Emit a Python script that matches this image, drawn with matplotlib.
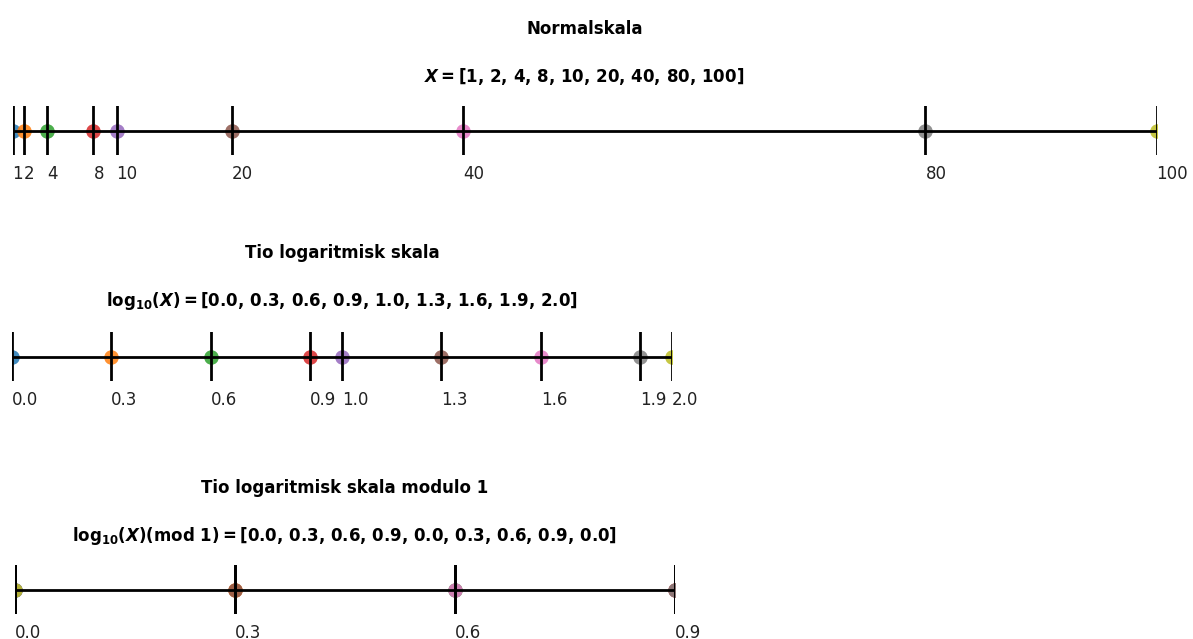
import matplotlib
matplotlib.use("Agg")
import matplotlib.pyplot as plt

# Data
x_values = [1, 2, 4, 8, 10, 20, 40, 80, 100]
log_values = [0.0, 0.301, 0.602, 0.903, 1.0, 1.301, 1.602, 1.903, 2.0]
mod_values = [0.0, 0.301, 0.602, 0.903, 0.0, 0.301, 0.602, 0.903, 0.0]

x_labels = ["1", "2", "4", "8", "10", "20", "40", "80", "100"]
log_labels = ["0.0", "0.3", "0.6", "0.9", "1.0", "1.3", "1.6", "1.9", "2.0"]
mod_ticks = [0.0, 0.301, 0.602, 0.903]
mod_labels = ["0.0", "0.3", "0.6", "0.9"]

titles = [
    r"Normalskala" "\n\n" r"$\boldsymbol{X}\mathbf{=}$[1, 2, 4, 8, 10, 20, 40, 80, 100]",
    r"Tio logaritmisk skala" "\n\n" r"$\mathbf{log_{10}(}\boldsymbol{X}\mathbf{)=}$[0.0, 0.3, 0.6, 0.9, 1.0, 1.3, 1.6, 1.9, 2.0]",
    r"Tio logaritmisk skala modulo 1" "\n\n" r"$\mathbf{log_{10}(}\boldsymbol{X}\mathbf{)}$(mod 1)$\mathbf{=}$[0.0, 0.3, 0.6, 0.9, 0.0, 0.3, 0.6, 0.9, 0.0]",
]
pads = [17, 19, 17]

colors = plt.rcParams['axes.prop_cycle'].by_key()['color']

W, H = 1193, 639
fig = plt.figure(figsize=(W / 100, H / 100), dpi=100)

def add_ax(left, right, top, bottom):
    return fig.add_axes([left / W, (H - bottom) / H, (right - left) / W, (bottom - top) / H])

ax1 = add_ax(12.5, 1156.5, 106, 155)
ax2 = add_ax(12, 672, 332, 381)
ax3 = add_ax(15, 675, 565, 614)

configs = [
    (ax1, x_values, x_values, x_labels),
    (ax2, log_values, log_values, log_labels),
    (ax3, mod_values, mod_ticks, mod_labels),
]

for i, (ax, vals, ticks, labels) in enumerate(configs):
    for j, v in enumerate(vals):
        ax.scatter([v], [0], s=110, color=colors[j % len(colors)], alpha=0.85, zorder=2, linewidths=0)
    for v in vals:
        ax.axvline(v, color='black', lw=2, zorder=3)
    ax.axhline(0, color='black', lw=2, zorder=3)
    ax.set_xlim(min(vals), max(vals))
    ax.set_ylim(-1, 1)
    ax.set_xticks(ticks)
    ax.set_xticklabels(labels, ha='left', fontsize=12)
    ax.tick_params(axis='x', bottom=False, colors='#222222')
    ax.set_yticks([])
    for sp in ax.spines.values():
        sp.set_visible(False)
    ax.set_title(titles[i], fontsize=12, fontweight='bold', pad=pads[i], linespacing=1.33)

fig.savefig("out.png", dpi=100)
